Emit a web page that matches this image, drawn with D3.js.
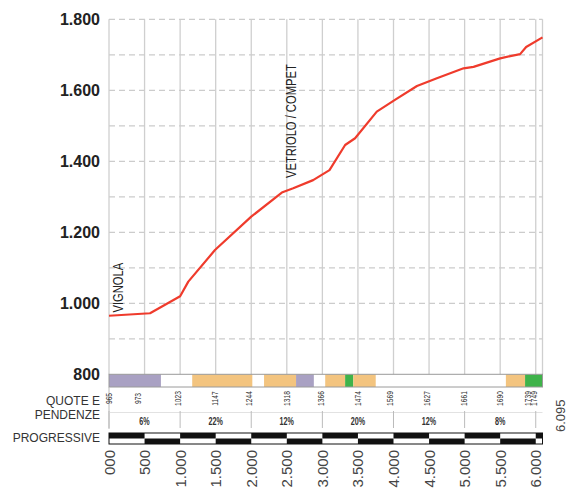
<!DOCTYPE html>
<html>
<head>
<meta charset="utf-8">
<script src="https://cdn.jsdelivr.net/npm/d3@7"></script>
<style>
  html, body { margin: 0; padding: 0; background: #fff; }
  svg { display: block; }
  .narrow { font-family: 'Liberation Sans', Arial, sans-serif; }
</style>
</head>
<body>
<div id="chart"></div>
<script>
// profilo altimetrico: [distanza m, quota m]
const profile = [
  [0, 965], [577, 972], [1000, 1020], [1115, 1061], [1490, 1150], [2000, 1244],
  [2430, 1312], [2590, 1324], [2870, 1347], [3100, 1375], [3320, 1446], [3460, 1465],
  [3765, 1540], [4020, 1573], [4330, 1612], [4610, 1634], [4985, 1662], [5125, 1666],
  [5500, 1690], [5780, 1702], [5865, 1722], [6095, 1749]
]
const totalDist = 6095

// quote lette sotto il grafico
const quoteDist = [0, 410, 960, 1490, 1970, 2500, 2980, 3500, 3940, 4470, 4990, 5500, 5880, 5975]
const quoteLabels = ['965', '973', '1023', '1147', '1244', '1318', '1366', '1474', '1569', '1627', '1661', '1690', '1739', '1749']

// pendenze per chilometro
const slopeStart = [0, 1000, 2000, 3000, 4000, 5000]
const slopeLabels = ['6%', '22%', '12%', '20%', '12%', '8%']

// fascia difficoltà
const bandStart = [0, 730, 1170, 2015, 2180, 2630, 2880, 3040, 3320, 3435, 3750, 5580, 5850]
const bandEnd   = [730, 1170, 2015, 2180, 2630, 2880, 3040, 3320, 3435, 3750, 5580, 5850, 6095]
const bandType  = ['p', null, 'o', null, 'o', 'p', null, 'o', 'g', 'o', null, 'o', 'g']
const bandColors = { p: '#a9a1c3', o: '#f3c47f', g: '#3fb34a' }

// località
const places = [
  { name: 'VIGNOLA', dist: 130, elev: 974 },
  { name: 'VETRIOLO / COMPET', dist: 2560, elev: 1353 }
]

const yTicks = [800, 1000, 1200, 1400, 1600, 1800]
const yTickLabels = ['800', '1.000', '1.200', '1.400', '1.600', '1.800']
const xTicks = [0, 500, 1000, 1500, 2000, 2500, 3000, 3500, 4000, 4500, 5000, 5500, 6000]
const xTickLabels = ['000', '500', '1.000', '1.500', '2.000', '2.500', '3.000', '3.500', '4.000', '4.500', '5.000', '5.500', '6.000']

const width = 567, height = 494

const svg = d3.select('#chart')
  .append('svg')
  .attr('width', width)
  .attr('height', height)

const x = d3.scaleLinear().domain([0, totalDist]).range([109, 542.5])
const y = d3.scaleLinear().domain([800, 1800]).range([374.3, 19.3])

// griglia verticale
const vLines = d3.range(0, 6001, 500).concat([totalDist])
svg.append('g').selectAll('line')
  .data(vLines)
  .join('line')
  .attr('x1', d => x(d)).attr('x2', d => x(d))
  .attr('y1', y(1800)).attr('y2', y(800))
  .attr('stroke', '#cfcfcf')
  .attr('stroke-width', 1.3)

// griglia orizzontale tratteggiata
svg.append('g').selectAll('line')
  .data(d3.range(900, 1801, 100))
  .join('line')
  .attr('x1', x(0)).attr('x2', x(totalDist))
  .attr('y1', d => y(d)).attr('y2', d => y(d))
  .attr('stroke', '#cccccc')
  .attr('stroke-width', 1.2)
  .attr('stroke-dasharray', '6,4')

// etichette asse y
svg.append('g').selectAll('text')
  .data(yTicks)
  .join('text')
  .attr('x', 100)
  .attr('y', d => y(d))
  .attr('dy', '0.36em')
  .attr('text-anchor', 'end')
  .attr('font-family', 'Liberation Sans, Arial, sans-serif')
  .attr('font-weight', 'bold')
  .attr('font-size', '16px')
  .attr('fill', '#222')
  .text((d, i) => yTickLabels[i])

// fascia colorata
const bandTop = y(800), bandH = 12.7
svg.append('g').selectAll('rect')
  .data(bandStart.map((s, i) => ({ s, e: bandEnd[i], t: bandType[i] })).filter(d => d.t))
  .join('rect')
  .attr('x', d => x(d.s))
  .attr('y', bandTop)
  .attr('width', d => x(d.e) - x(d.s))
  .attr('height', bandH)
  .attr('fill', d => bandColors[d.t])
svg.append('rect')
  .attr('x', x(0)).attr('y', bandTop)
  .attr('width', x(totalDist) - x(0)).attr('height', bandH)
  .attr('fill', 'none')
  .attr('stroke', '#9a9a9a')
  .attr('stroke-width', 1)

// linea sinistra sotto la fascia
svg.append('line')
  .attr('x1', x(0)).attr('x2', x(0))
  .attr('y1', bandTop + bandH).attr('y2', 429)
  .attr('stroke', '#bbb')

// quote
svg.append('g').attr('class', 'narrow').selectAll('text')
  .data(quoteDist)
  .join('text')
  .attr('transform', d => `translate(${x(d) + 3.3},398.5) rotate(-90) scale(0.7,1)`)
  .attr('text-anchor', 'middle')
  .attr('font-size', '9.5px')
  .attr('fill', '#333')
  .text((d, i) => quoteLabels[i])

// riga pendenze
svg.append('line')
  .attr('x1', x(0)).attr('x2', x(totalDist))
  .attr('y1', 412.5).attr('y2', 412.5)
  .attr('stroke', '#e2e2e2')
svg.append('g').selectAll('line')
  .data(slopeStart.concat([6000]))
  .join('line')
  .attr('x1', d => x(d)).attr('x2', d => x(d))
  .attr('y1', 411).attr('y2', 428)
  .attr('stroke', '#bbb')
svg.append('g').attr('class', 'narrow').selectAll('text')
  .data(slopeStart)
  .join('text')
  .attr('transform', d => `translate(${x(d + 500)},424.5) scale(0.72,1)`)
  .attr('text-anchor', 'middle')
  .attr('font-size', '10px')
  .attr('font-weight', 'bold')
  .attr('fill', '#333')
  .text((d, i) => slopeLabels[i])

// etichette a sinistra
const leftLabels = svg.append('g')
  .attr('font-family', 'Liberation Sans, Arial, sans-serif')
  .attr('font-size', '12px')
  .attr('fill', '#333')
  .attr('text-anchor', 'end')
leftLabels.append('text').attr('x', 100).attr('y', 405).text('QUOTE E')
leftLabels.append('text').attr('x', 100).attr('y', 418.5).text('PENDENZE')
leftLabels.append('text').attr('x', 100).attr('y', 441.5).text('PROGRESSIVE')

// barra progressive
const barTop = 433, barH = 11
const segs = d3.range(0, totalDist, 500).map((s, i) => ({ s, e: Math.min(s + 500, totalDist), top: i % 2 === 0 }))
svg.append('rect')
  .attr('x', x(0)).attr('y', barTop)
  .attr('width', x(totalDist) - x(0)).attr('height', barH)
  .attr('fill', '#fff')
svg.append('g').selectAll('rect')
  .data(segs)
  .join('rect')
  .attr('x', d => x(d.s))
  .attr('y', d => d.top ? barTop : barTop + barH / 2)
  .attr('width', d => x(d.e) - x(d.s))
  .attr('height', barH / 2)
  .attr('fill', '#111')
svg.append('rect')
  .attr('x', x(0)).attr('y', barTop)
  .attr('width', x(totalDist) - x(0)).attr('height', barH)
  .attr('fill', 'none')
  .attr('stroke', '#111')
  .attr('stroke-width', 1)

// etichette asse x
svg.append('g').selectAll('text')
  .data(xTicks)
  .join('text')
  .attr('transform', d => `translate(${x(d) + 5.5},450) rotate(-90)`)
  .attr('text-anchor', 'end')
  .attr('font-family', 'Liberation Sans, Arial, sans-serif')
  .attr('font-size', '15px')
  .attr('fill', '#444')
  .text((d, i) => xTickLabels[i])

svg.append('text')
  .attr('transform', `translate(${x(totalDist) + 22},432) rotate(-90)`)
  .attr('text-anchor', 'start')
  .attr('font-family', 'Liberation Sans, Arial, sans-serif')
  .attr('font-size', '13px')
  .attr('fill', '#444')
  .text('6.095')

// profilo
const line = d3.line().x(d => x(d[0])).y(d => y(d[1]))
svg.append('path')
  .datum(profile)
  .attr('d', line)
  .attr('fill', 'none')
  .attr('stroke', '#ef3b2c')
  .attr('stroke-width', 2.2)
  .attr('stroke-linejoin', 'round')

// località
svg.append('g').attr('class', 'narrow').selectAll('text')
  .data(places)
  .join('text')
  .attr('transform', d => `translate(${x(d.dist) + 5},${y(d.elev)}) rotate(-90) scale(0.8,1)`)
  .attr('text-anchor', 'start')
  .attr('font-size', '14px')
  .attr('fill', '#222')
  .text(d => d.name)
</script>
</body>
</html>
